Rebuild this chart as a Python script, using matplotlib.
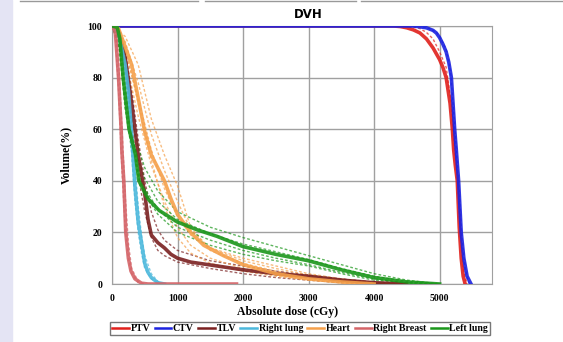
import matplotlib.pyplot as plt
from matplotlib.lines import Line2D

# --- data: (dose cGy, volume %) ---
ptv_dose = [0, 4300, 4400, 4500, 4600, 4700, 4800, 4900, 5000, 5050, 5100, 5160, 5195, 5215, 5240, 5270, 5300, 5330, 5360, 5390]
ptv_vol = [100, 100, 99.8, 99.3, 98.5, 97.3, 95, 91.5, 87, 84, 80, 70, 60, 52, 46, 40, 22, 10, 3, 0]
ptv_d_dose = [0, 4500, 4600, 4700, 4800, 4900, 5000, 5100, 5180, 5220, 5280, 5320, 5360, 5420]
ptv_d_vols = [[100, 100, 99.6, 99, 97.5, 95, 90, 84, 70, 55, 38, 18, 6, 0]]

ctv_dose = [0, 4600, 4700, 4800, 4900, 4950, 5000, 5050, 5100, 5140, 5180, 5230, 5255, 5290, 5330, 5370, 5420, 5480]
ctv_vol = [100, 100, 99.7, 99.3, 98.3, 97.3, 95.5, 93, 90, 86, 80, 60, 52, 40, 20, 10, 3, 0]
ctv_d_dose = [0, 4650, 4750, 4850, 4950, 5000, 5100, 5170, 5220, 5260, 5300, 5340, 5390, 5450]
ctv_d_vols = [[100, 100, 99.6, 99, 97.5, 96, 91, 82, 65, 50, 36, 18, 6, 0]]

tlv_dose = [0, 100, 200, 300, 400, 500, 550, 600, 700, 800, 900, 1000, 1200, 1600, 2000, 2500, 3000, 3500, 4000, 4500]
tlv_vol = [100, 98, 88, 70, 50, 35, 25, 19, 16, 14, 11.5, 10, 8.5, 7, 5.5, 4, 3, 1.5, 0.5, 0]
tlv_d_dose = [0, 200, 300, 400, 500, 600, 700, 800, 1000, 1500, 2000, 2500, 3000, 3500, 4000, 4500]
tlv_d_vols = [[100, 90, 75, 56, 40, 28, 21, 17, 13, 9, 7, 5, 3.5, 2, 0.7, 0],
              [100, 84, 62, 42, 28, 18, 13, 11, 8.5, 6, 4, 2.5, 1.5, 0.5, 0, 0]]

rlung_dose = [0, 100, 200, 250, 300, 350, 400, 450, 500, 550, 600, 700, 800]
rlung_vol = [100, 97, 85, 75, 58, 38, 24, 16, 8, 4.5, 2.5, 0.5, 0]
rlung_d_dose = [0, 100, 200, 250, 300, 350, 400, 450, 500, 600, 700, 800]
rlung_d_vols = [[100, 98, 88, 78, 64, 46, 30, 19, 11, 4, 1, 0],
                [100, 96, 80, 68, 50, 32, 20, 12, 6, 2, 0.5, 0]]

heart_dose = [0, 100, 200, 300, 400, 500, 600, 700, 800, 900, 1000, 1200, 1400, 1700, 2000, 2500, 3000, 3500, 4000]
heart_vol = [100, 99, 92, 85, 72, 59, 50, 45, 40, 33, 27, 20, 15, 11, 7.5, 4, 2, 0.8, 0]
heart_d_dose = [0, 200, 400, 600, 800, 1000, 1200, 1500, 2000, 2500, 3000, 3500, 4000, 4500]
heart_d_vols = [[100, 96, 85, 64, 50, 38, 22, 13, 8, 5, 3, 1.5, 0.5, 0],
                [100, 94, 78, 58, 44, 32, 21, 14, 9, 6, 3.5, 1.5, 0.5, 0],
                [100, 90, 72, 52, 37, 26, 19, 14, 10, 7, 4, 2, 0.5, 0],
                [100, 88, 65, 46, 32, 22, 15, 10, 6, 3.5, 2, 1, 0.3, 0],
                [100, 92, 70, 48, 30, 18, 12, 8, 5, 3, 1.5, 0.5, 0, 0]]

rbreast_dose = [0, 50, 100, 140, 150, 180, 210, 250, 290, 350, 450, 550, 1900]
rbreast_vol = [100, 98, 80, 60, 52, 40, 20, 10, 5, 2, 0.3, 0, 0]
rbreast_d_dose = [0, 50, 100, 150, 200, 250, 300, 400, 500]
rbreast_d_vols = [[100, 99, 88, 62, 35, 16, 6, 1, 0],
                  [100, 97, 75, 45, 22, 10, 4, 0.5, 0]]

llung_dose = [0, 80, 120, 170, 260, 360, 410, 550, 720, 1000, 1300, 1600, 2000, 2500, 3000, 3500, 4000, 4500, 5000]
llung_vol = [100, 99.5, 95, 80, 60, 50, 40, 33, 28.5, 24, 21, 18.5, 14.5, 11.5, 9, 5.5, 2.5, 0.8, 0]
llung_d_dose = [0, 100, 200, 300, 400, 500, 700, 1000, 1500, 2000, 2500, 3000, 3500, 4000, 4500, 5000]
llung_d_vols = [[100, 97, 82, 64, 53, 45, 36, 28, 22, 18, 14.5, 11, 7.5, 4, 1.5, 0],
                [100, 94, 68, 52, 42, 35, 27, 20, 15, 11.5, 9, 7, 4, 1.5, 0.5, 0],
                [100, 96, 76, 58, 48, 41, 32, 25, 19.5, 15.5, 12.5, 9.5, 6, 3, 1, 0],
                [100, 95, 72, 55, 44, 37, 29, 22, 17, 13, 10, 7.5, 4.5, 2, 0.5, 0]]

names = ['PTV', 'CTV', 'TLV', 'Right lung', 'Heart', 'Right Breast', 'Left lung']
colors = ['#e0201c', '#1c22e0', '#7a2020', '#4cb8dc', '#f5a04a', '#d46468', '#1a961a']

structs = [
    (ptv_dose, ptv_vol, ptv_d_dose, ptv_d_vols),
    (ctv_dose, ctv_vol, ctv_d_dose, ctv_d_vols),
    (tlv_dose, tlv_vol, tlv_d_dose, tlv_d_vols),
    (rlung_dose, rlung_vol, rlung_d_dose, rlung_d_vols),
    (heart_dose, heart_vol, heart_d_dose, heart_d_vols),
    (rbreast_dose, rbreast_vol, rbreast_d_dose, rbreast_d_vols),
    (llung_dose, llung_vol, llung_d_dose, llung_d_vols),
]

serif = 'Liberation Serif'

fig = plt.figure(figsize=(5.63, 3.42), dpi=100)
ax = fig.add_axes([112 / 563, 1 - 284 / 342, (492 - 112) / 563, (284 - 26) / 342])

# lavender strip on the left, box borders along the top
fig.patches.append(plt.Rectangle((0, 0), 12 / 563, 1, transform=fig.transFigure,
                                 color='#e4e4f4', zorder=0))
for x0, x1 in [(20, 198), (205, 356), (361, 563)]:
    fig.add_artist(Line2D([x0 / 563, x1 / 563], [0.998, 0.998], color='#999999', lw=1))

# dashed individual curves first, solid mean curves on top
for (dd, vv, ddd, dvols), c in zip(structs, colors):
    for dv in dvols:
        ax.plot(ddd, dv, color=c, lw=1.0, ls=(0, (2, 1.5)), alpha=0.7, zorder=2)
for (dd, vv, ddd, dvols), c in zip(structs, colors):
    ax.plot(dd, vv, color=c, lw=2.6, alpha=0.9, zorder=3)

ax.set_xlim(0, 5800)
ax.set_ylim(0, 100)
ax.set_xticks([0, 1000, 2000, 3000, 4000, 5000])
ax.set_yticks([0, 20, 40, 60, 80, 100])
ax.grid(True, color='#a0a0a0', lw=1)
ax.set_axisbelow(True)
for s in ax.spines.values():
    s.set_color('#a0a0a0')
ax.tick_params(length=0, pad=7)
for lab in ax.get_xticklabels() + ax.get_yticklabels():
    lab.set_fontfamily(serif)
    lab.set_fontweight('bold')
    lab.set_fontsize(7)

fig.text(308 / 563, 1 - 14 / 342, 'DVH', fontsize=8.5, fontweight='bold', family='DejaVu Sans',
         ha='center', va='center')
ax.set_xlabel('Absolute dose (cGy)', fontsize=8.5, fontweight='bold', family=serif)
ax.xaxis.set_label_coords((288 - 112) / 380, -0.085)
ax.set_ylabel('Volume(%)', fontsize=8.5, fontweight='bold', family=serif)
ax.yaxis.set_label_coords(-0.105, 0.5)

handles = [Line2D([], [], color=c, lw=1.8) for c in colors]
leg = fig.legend(handles, names, loc='center', bbox_to_anchor=(300 / 563, 1 - 328.5 / 342),
                 ncol=7, frameon=True, fancybox=False, handlelength=1.7, handletextpad=0.15,
                 columnspacing=0.45, borderpad=0.2,
                 prop={'family': serif, 'weight': 'bold', 'size': 7.1})
leg.get_frame().set_edgecolor('#555555')
leg.get_frame().set_linewidth(1.0)

fig.savefig('out.png', dpi=100)
